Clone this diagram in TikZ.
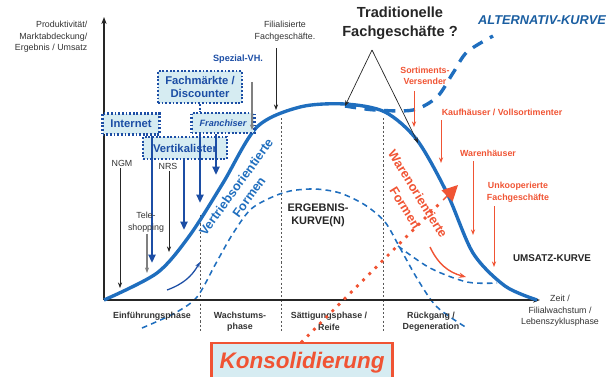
\documentclass[tikz,border=0pt]{standalone}
\usepackage{fontspec}
\setmainfont{Liberation Sans}
\usetikzlibrary{arrows.meta, positioning, calc}
\definecolor{kblue}{RGB}{31,110,190}
\definecolor{dblue}{RGB}{28,78,165}
\definecolor{lcyan}{RGB}{214,236,242}
\definecolor{kred}{RGB}{240,84,52}

\begin{document}
\begin{tikzpicture}[x=0.025cm, y=-0.025cm,
  lbl/.style={font=\fontsize{6.3}{8.2}\selectfont, align=center, text=black!80, inner sep=1pt},
  blbl/.style={lbl, font=\fontsize{6.3}{8.2}\selectfont\bfseries},
  rlbl/.style={blbl, text=kred},
  vbox/.style={draw=dblue, fill=lcyan, line width=1.6pt, dash pattern=on 1.3pt off 1.3pt, font=\fontsize{8}{9.5}\selectfont\bfseries, text=dblue, align=center, inner sep=1pt},
  arr/.style={-{Stealth[length=4pt]}, draw=black!85, line width=0.5pt},
  garr/.style={arr, draw=black!50, line width=0.9pt},
  barr/.style={-{Triangle[length=6pt, width=5pt]}, draw=dblue, line width=2pt},
  oarr/.style={-{Stealth[length=4pt]}, draw=kred, line width=0.7pt},
  divline/.style={draw=black!65, dash pattern=on 1.5pt off 1.5pt, line width=0.5pt},
  vform/.style={font=\fontsize{9}{11}\selectfont\bfseries, text=kblue, inner sep=0pt, rotate=54},
  wform/.style={font=\fontsize{9}{11}\selectfont\bfseries, text=kred, inner sep=0pt, rotate=-58},
]
\useasboundingbox (0,0) rectangle (609,376);

%% Phase dividers
\draw[divline] (200,215) -- (200,332);
\draw[divline] (281,118) -- (281,332);
\draw[divline] (383,118) -- (383,332);

%% Ergebnis curves
\draw[kblue, line width=1.1pt, dash pattern=on 4pt off 3pt] plot[smooth] coordinates {(142,328) (175,313) (197,297) (215,265) (232,235) (250,210) (270,198) (290,191) (315,189) (340,193) (365,205) (385,222) (400,248) (418,280) (437,307) (467,328)};
\draw[kblue, line width=1.1pt, dash pattern=on 4pt off 3pt] plot[smooth] coordinates {(398,246) (430,268) (467,282) (497,283)};

%% Axes
\coordinate (O) at (104,300);
\coordinate (ytop) at (104,17);
\coordinate (xend) at (540,300);
\draw[black!85, line width=1.3pt, -{Stealth[length=5pt]}] (O) -- (ytop);
\draw[black!85, line width=1.3pt, -{Stealth[length=5pt]}] (O) -- (xend);

%% Umsatz and alternative curves
\draw[kblue, line width=2.4pt, dash pattern=on 8pt off 6pt] plot[smooth] coordinates {(345,106) (375,110) (413,110) (437,97) (453,73) (467,52) (493,36)};
\draw[kblue, line width=2.4pt] plot[smooth] coordinates {(104,300) (157,273) (190,235) (223,183) (257,127) (300,107) (345,104) (385,112) (417,140) (447,193) (473,253) (505,286) (537,300)};

%% Axis labels
\node[lbl, align=right, anchor=east] (ylab) at (89,37) {Produktivität/\\Marktabdeckung/\\Ergebnis / Umsatz};
\node[lbl] (xlab) at (560,311) {Zeit /\\Filialwachstum /\\Lebenszyklusphase};

%% Phases
\node[blbl] (ph1) at (152,316) {Einführungsphase};
\node[blbl] (ph2) at (240,321.5) {Wachstums-\\phase};
\node[blbl] (ph3) at (329,321.5) {Sättigungsphase /\\Reife};
\node[blbl] (ph4) at (431,321.5) {Rückgang /\\Degeneration};

%% Blue boxes
\node[vbox, minimum width=2.1cm, minimum height=0.8cm] (fach) at (200,87) {Fachmärkte /\\Discounter};
\node[vbox, minimum width=1.42cm, minimum height=0.52cm] (internet) at (131,124) {Internet};
\node[vbox, minimum width=1.57cm, minimum height=0.5cm, font=\fontsize{6.5}{8}\selectfont\bfseries\itshape] (franch) at (223,123) {Franchiser};
\node[vbox, minimum width=2.1cm, minimum height=0.55cm] (vertik) at (185,148) {Vertikalister};
\draw[dblue, line width=1.6pt, dash pattern=on 1.3pt off 1.3pt] (fach.south) -- (fach.south |- franch.north);
\node[blbl, text=dblue, font=\fontsize{6.5}{8}\selectfont\bfseries] (spez) at (238,59) {Spezial-VH.};

%% Blue arrows
\coordinate (i1) at (152,263);
\coordinate (f1) at (200,203);
\coordinate (f2) at (216,175);
\coordinate (v1) at (184,230);
\draw[barr] (internet.south -| i1) -- (i1);
\draw[barr] (franch.south -| f1) -- (f1);
\draw[barr] (franch.south -| f2) -- (f2);
\draw[barr] (vertik.south -| v1) -- (v1);

%% Thin labels and arrows
\node[lbl] (ngm) at (122,163) {NGM};
\node[lbl] (nrs) at (168,166) {NRS};
\node[lbl] (tele) at (146,222) {Tele-\\shopping};
\node[lbl] (filial) at (285,31) {Filialisierte\\Fachgeschäfte.};
\coordinate (n1) at (120,288);
\coordinate (r1) at (169,252);
\coordinate (t1) at (147,273);
\coordinate (s1) at (252,130);
\coordinate (fl1) at (276,110);
\draw[arr] (ngm.south -| n1) -- (n1);
\draw[arr] (nrs.south -| r1) -- (r1);
\draw[garr] (tele.south -| t1) -- (t1);
\draw[garr, shorten <=12pt] (spez.south -| s1) -- (s1);
\draw[arr, shorten <=4pt] (filial.south -| fl1) -- (fl1);

%% Small curved arrows
\coordinate (sa1) at (167,290);
\coordinate (sa2) at (200,262);
\draw[dblue, line width=0.9pt, -{Stealth[length=4pt]}] (sa1) to[bend right=20] (sa2);
\coordinate (oa1) at (430,247);
\coordinate (oa2) at (466,277);
\draw[kred, line width=1pt, -{Stealth[length=5pt]}] (oa1) to[bend right=25] (oa2);

%% Traditionelle Fachgeschaefte
\node[font=\fontsize{10.4}{13.5}\selectfont\bfseries, align=center, text=black!85] (trad) at (400,23) {Traditionelle\\Fachgeschäfte ?};
\coordinate (tr0) at (372,50);
\coordinate (tr1) at (345,106);
\coordinate (tr2) at (418,143);
\draw[arr] (tr0) -- (tr1);
\draw[arr] (tr0) -- (tr2);
\node[font=\fontsize{9.1}{11}\selectfont\bfseries\itshape, text=kblue!85!black] (alt) at (542,20) {ALTERNATIV-KURVE};

%% Orange labels and arrows
\node[rlbl] (sort) at (425,76) {Sortiments-\\Versender};
\node[rlbl] (kauf) at (502,112) {Kaufhäuser / Vollsortimenter};
\node[rlbl] (waren) at (488,153) {Warenhäuser};
\node[rlbl] (unko) at (518,192) {Unkooperierte\\Fachgeschäfte};
\coordinate (o1) at (414,127);
\coordinate (o2) at (441,163);
\coordinate (o3) at (473,235);
\coordinate (o4) at (494,267);
\draw[oarr, shorten <=3pt] (sort.south -| o1) -- (o1);
\draw[oarr, shorten <=2pt] (kauf.south -| o2) -- (o2);
\draw[oarr, shorten <=2pt] (waren.south -| o3) -- (o3);
\draw[oarr, shorten <=2pt] (unko.south -| o4) -- (o4);

%% Curve labels
\node[font=\fontsize{7}{8.5}\selectfont\bfseries, text=black!85] (umsatz) at (552,258) {UMSATZ-KURVE};
\node[font=\fontsize{7.8}{9.5}\selectfont\bfseries, text=black!85, align=center] (ergeb) at (318,215) {ERGEBNIS-\\KURVE(N)};
\node[vform] (vertr1) at (236,187) {Vertriebsorientierte};
\node[vform] (vertr2) at (249,197) {Formen};
\node[wform] (waren1) at (418,194) {Warenorientierte};
\node[wform] (waren2) at (405,208) {Formen};

%% Konsolidierung
\node[draw=kred, fill=lcyan, line width=2pt, minimum width=4.53cm, minimum height=1.0cm, font=\fontsize{16}{18}\selectfont\bfseries\itshape, text=kred] (kons) at (302,363) {Konsolidierung};
\coordinate (kc) at (443,200);
\coordinate (ktip) at (458,185);
\draw[kred, line width=2.8pt, line cap=round, dash pattern=on 0pt off 6.2pt] (kons.north) -- (kc);
\draw[kred, line width=1pt, -{Triangle[length=11pt, width=11pt]}] (kc) -- (ktip);
\end{tikzpicture}
\end{document}
